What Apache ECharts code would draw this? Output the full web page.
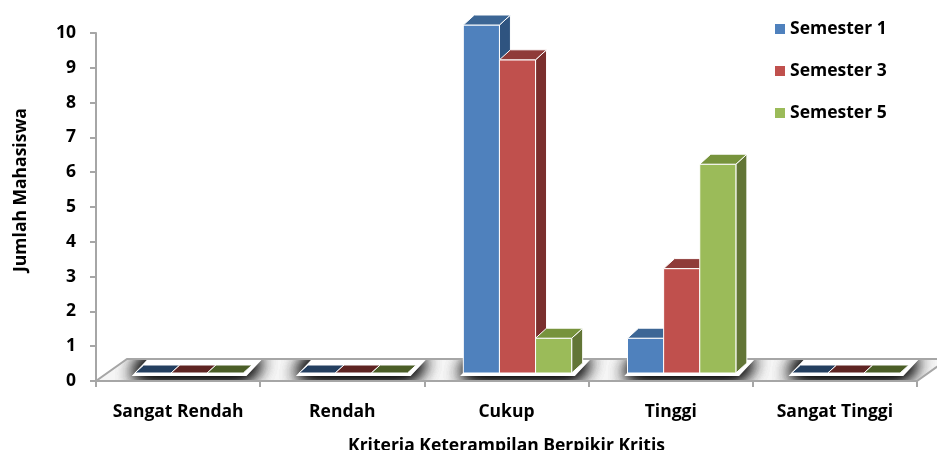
<!DOCTYPE html>
<html>
<head>
<meta charset="utf-8">
<script src="https://cdn.jsdelivr.net/npm/echarts@6/dist/echarts.min.js"></script>
<style>
html,body{margin:0;padding:0;background:#fff;}
#chart{width:937px;height:450px;}
</style>
</head>
<body>
<div id="chart"></div>
<script>
// ---- data ----
const categories = ['Sangat Rendah', 'Rendah', 'Cukup', 'Tinggi', 'Sangat Tinggi'];
const seriesNames = ['Semester 1', 'Semester 3', 'Semester 5'];
const semester1 = [0, 0, 10, 1, 0];
const semester3 = [0, 0, 9, 3, 0];
const semester5 = [0, 0, 1, 6, 0];
const yMin = 0, yMax = 10, yInterval = 1;
const xTitle = 'Kriteria Keterampilan Berpikir Kritis';
const yTitle = 'Jumlah Mahasiswa';

// ---- styling ----
const FONT = 'Open Sans';
const FS = 17.5;
const frontColors = ['#4F81BD', '#C0504D', '#9BBB59'];
const topColors = ['#3C6695', '#8F3B39', '#77933C'];
const sideColors = ['#2F5480', '#7A2F2D', '#627536'];
const flatColors = ['#243F60', '#5E2422', '#4B5E27'];
const FLOOR_DX = 31, FLOOR_DY = 22;   // floor depth offset
const SHIFT_X = 11, SHIFT_Y = 8;      // bar front offset from floor front
const DX = 11, DY = 10;               // bar depth offset
const BAR_FRAC = 0.22;

function barRender(si) {
  return function (params, api) {
    const cat = api.value(0), val = api.value(1);
    const band = api.size([1, 0])[0];
    const base = api.coord([cat, 0]);
    const tp = api.coord([cat, val]);
    const w = band * BAR_FRAC;
    const x0 = base[0] + SHIFT_X - 1.5 * w + si * w;
    const x1 = x0 + w;
    const yb = base[1] - SHIFT_Y;
    const yt = tp[1] - SHIFT_Y;
    const stroke = { stroke: '#FFFFFF', lineWidth: 1 };
    const children = [];
    if (val <= 0) {
      children.push({
        type: 'polygon',
        shape: { points: [[x0, yb], [x1, yb], [x1 + DX * 0.8, yb - DY * 0.8], [x0 + DX * 0.8, yb - DY * 0.8]] },
        style: Object.assign({ fill: flatColors[si] }, stroke)
      });
    } else {
      children.push({
        type: 'polygon',
        shape: { points: [[x1, yt], [x1 + DX, yt - DY], [x1 + DX, yb - DY], [x1, yb]] },
        style: Object.assign({ fill: sideColors[si] }, stroke)
      });
      children.push({
        type: 'rect',
        shape: { x: x0, y: yt, width: w, height: yb - yt },
        style: Object.assign({ fill: frontColors[si] }, stroke)
      });
      children.push({
        type: 'polygon',
        shape: { points: [[x0, yt], [x1, yt], [x1 + DX, yt - DY], [x0 + DX, yt - DY]] },
        style: Object.assign({ fill: topColors[si] }, stroke)
      });
    }
    return { type: 'group', children: children };
  };
}

function floorRender(params, api) {
  const cs = params.coordSys;
  const L = cs.x, R = cs.x + cs.width, B = cs.y + cs.height;
  const band = api.size([1, 0])[0];
  const children = [];
  children.push({
    type: 'polygon',
    shape: { points: [[L, B], [R, B], [R + FLOOR_DX, B - FLOOR_DY], [L + FLOOR_DX, B - FLOOR_DY]] },
    style: { fill: '#F5F5F5' }
  });
  for (let k = 0; k < categories.length; k++) {
    const c = api.coord([k, 0]);
    const w = band * BAR_FRAC;
    const xf = c[0] + SHIFT_X - 1.5 * w - 3;
    const xr = c[0] + SHIFT_X + 1.5 * w + 3;
    const yf = B - SHIFT_Y + 3, yk = B - SHIFT_Y - DY - 3;
    for (let r = 0; r < 4; r++) {
      children.push({
        type: 'polygon',
        shape: { points: [[xf, yf], [xr, yf], [xr + DX + 4, yk], [xf + DX + 4, yk]] },
        style: { fill: '#FFFFFF', shadowBlur: 18, shadowColor: 'rgba(0,0,0,0.9)' }
      });
    }
  }
  // masks to keep the soft shadows on the floor
  children.push({
    type: 'polygon',
    shape: { points: [[L + 1, B], [L + FLOOR_DX, B - FLOOR_DY], [R + 80, B - FLOOR_DY], [R + 80, B - 70], [L + 1, B - 70]] },
    style: { fill: '#FFFFFF' }
  });
  children.push({
    type: 'polygon',
    shape: { points: [[L, B], [R, B], [R + FLOOR_DX, B - FLOOR_DY], [R + 80, B - FLOOR_DY], [R + 80, B + 40], [L, B + 40]] },
    style: { fill: '#FFFFFF' }
  });
  children.push({
    type: 'polygon',
    shape: { points: [[L, B], [R, B], [R + FLOOR_DX, B - FLOOR_DY], [L + FLOOR_DX, B - FLOOR_DY]] },
    style: { fill: 'none', stroke: '#A6A6A6', lineWidth: 2 }
  });
  return { type: 'group', children: children };
}

const seriesData = [semester1, semester3, semester5];
const series = [{
  type: 'custom',
  name: '__floor',
  z: 1,
  silent: true,
  renderItem: floorRender,
  data: [[0, 0]],
  tooltip: { show: false }
}];
seriesData.forEach(function (arr, si) {
  series.push({
    type: 'custom',
    name: seriesNames[si],
    z: 3,
    itemStyle: { color: frontColors[si] },
    renderItem: barRender(si),
    data: arr.map(function (v, i) { return [i, v]; })
  });
});

const chart = echarts.init(document.getElementById('chart'), null, { renderer: 'canvas' });
chart.setOption({
  animation: false,
  color: frontColors,
  textStyle: { fontFamily: FONT },
  grid: { left: 96, right: 20, top: 33, bottom: 69, containLabel: false, outerBoundsMode: 'none' },
  legend: {
    data: seriesNames,
    orient: 'vertical',
    left: 770,
    top: 13,
    icon: 'rect',
    itemWidth: 10,
    itemHeight: 10,
    itemGap: 20,
    textStyle: { fontFamily: FONT, fontWeight: 'bold', fontSize: FS, color: '#000', lineHeight: 22 }
  },
  xAxis: {
    type: 'category',
    data: categories,
    z: 5,
    boundaryGap: true,
    name: xTitle,
    nameLocation: 'middle',
    nameGap: 56,
    nameTextStyle: { fontFamily: FONT, fontWeight: 'bold', fontSize: FS, color: '#000' },
    axisLine: { lineStyle: { color: '#A6A6A6', width: 2 } },
    axisTick: { show: true, alignWithLabel: false, length: 6, lineStyle: { color: '#A6A6A6', width: 2 } },
    axisLabel: { interval: 0, hideOverlap: false, margin: 22, fontFamily: FONT, fontWeight: 'bold', fontSize: FS, color: '#000' },
    splitLine: { show: false }
  },
  yAxis: {
    type: 'value',
    min: yMin,
    max: yMax,
    interval: yInterval,
    z: 5,
    name: yTitle,
    nameLocation: 'middle',
    nameGap: 66,
    nameTextStyle: { fontFamily: FONT, fontWeight: 'bold', fontSize: FS, color: '#000', padding: [0, 0, 0, 34] },
    axisLine: { show: true, lineStyle: { color: '#A6A6A6', width: 2 } },
    axisTick: { show: true, length: 6, lineStyle: { color: '#A6A6A6', width: 2 } },
    axisLabel: { margin: 20, fontFamily: FONT, fontWeight: 'bold', fontSize: FS, color: '#000' },
    splitLine: { show: false }
  },
  series: series
});
</script>
</body>
</html>
